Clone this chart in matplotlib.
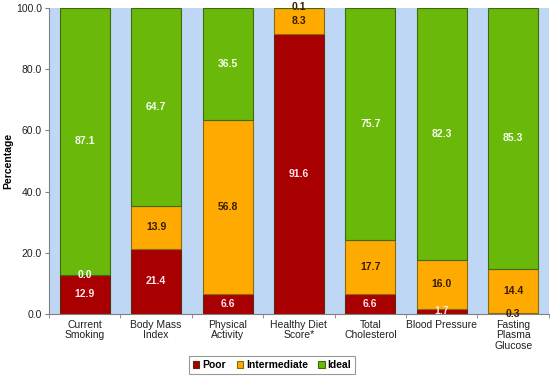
import matplotlib.pyplot as plt
import numpy as np

plt.rcParams['font.family'] = ['Liberation Sans', 'DejaVu Sans']

categories = ['Current\nSmoking', 'Body Mass\nIndex', 'Physical\nActivity',
              'Healthy Diet\nScore*', 'Total\nCholesterol', 'Blood Pressure',
              'Fasting\nPlasma\nGlucose']
poor = [12.9, 21.4, 6.6, 91.6, 6.6, 1.7, 0.3]
intermediate = [0.0, 13.9, 56.8, 8.3, 17.7, 16.0, 14.4]
ideal = [87.1, 64.7, 36.5, 0.1, 75.7, 82.3, 85.3]

fig = plt.figure(figsize=(5.5, 3.77), dpi=100)
ax = fig.add_axes([0.089, 0.167, 0.909, 0.812])
ax.set_facecolor('#BDD7F5')

x = np.arange(len(categories))
w = 0.70
poor = np.array(poor)
intermediate = np.array(intermediate)
ideal = np.array(ideal)

b1 = ax.bar(x, poor, w, color='#A80000', edgecolor='#5A2A0A', lw=0.8, label='Poor')
b2 = ax.bar(x, intermediate, w, bottom=poor, color='#FFAA00', edgecolor='#8A6A10',
            lw=0.8, label='Intermediate')
b3 = ax.bar(x, ideal, w, bottom=poor + intermediate, color='#6AB80A',
            edgecolor='#3F6A10', lw=0.8, label='Ideal')

# data labels in the middle of each segment
for i in range(len(x)):
    ax.text(x[i], poor[i] / 2, f'{poor[i]:.1f}', ha='center', va='center',
            color='#FFE4EC', fontsize=7.5, fontweight='bold')
    c = '#FFFFFF' if intermediate[i] == 0 else '#3A1A00'
    ax.text(x[i], poor[i] + intermediate[i] / 2, f'{intermediate[i]:.1f}',
            ha='center', va='center', color=c, fontsize=7.5, fontweight='bold')
    ax.text(x[i], poor[i] + intermediate[i] + ideal[i] / 2, f'{ideal[i]:.1f}',
            ha='center', va='center', color='#F4FFF0', fontsize=7.5, fontweight='bold')
# the tiny top label on the diet bar sits just at the top edge
ax.texts[3 * 3 + 2].set_color('#3A1A00')
ax.texts[3 * 3 + 2].set_y(100.3)
# tiny poor label on the glucose bar is dark
ax.texts[6 * 3].set_color('#3A1A00')

ax.set_xlim(-0.5, len(x) - 0.5)
ax.set_ylim(0, 100)
ax.set_yticks(np.arange(0, 101, 20))
ax.set_yticklabels([f'{v:.1f}' for v in np.arange(0, 101, 20)], fontsize=7.5,
                   color='#202020')
ax.set_xticks(x)
ax.set_xticklabels(categories, fontsize=7.5, linespacing=1.1, color='#202020')
ax.tick_params(axis='x', length=0, pad=4)
ax.set_xticks(np.arange(-0.5, len(x), 1), minor=True)
ax.tick_params(axis='x', which='minor', length=3, color='#808080')
ax.tick_params(axis='y', length=3, color='#808080', pad=2)
ax.set_ylabel('Percentage', fontsize=7.5, fontweight='bold', labelpad=2)

for s in ['top', 'right']:
    ax.spines[s].set_visible(False)
for s in ['left', 'bottom']:
    ax.spines[s].set_color('#808080')

leg = fig.legend(handles=[b1, b2, b3], loc='lower center', ncol=3,
                 bbox_to_anchor=(0.495, -0.005), frameon=True,
                 prop={'size': 7.5, 'weight': 'bold'},
                 fancybox=False, edgecolor='#808080', handlelength=0.6,
                 handleheight=0.6, handletextpad=0.3, columnspacing=1.0,
                 borderpad=0.35)
leg.get_frame().set_linewidth(0.8)

fig.savefig('out.png', dpi=100)
